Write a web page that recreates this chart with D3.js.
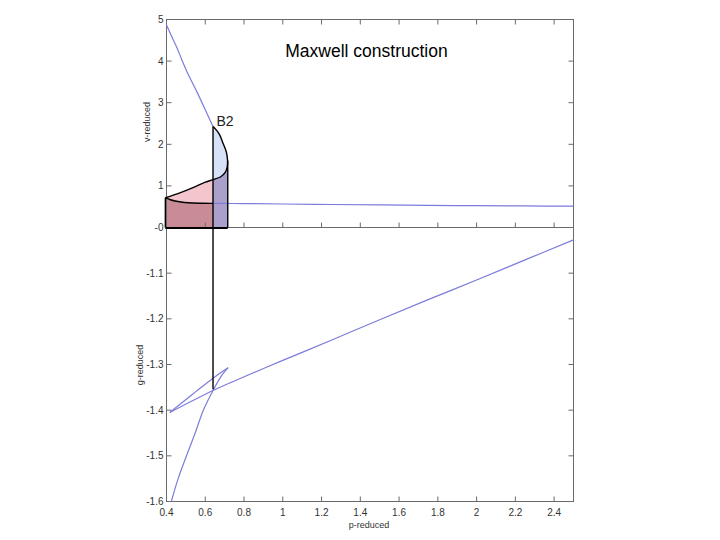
<!DOCTYPE html>
<html><head><meta charset="utf-8">
<script src="https://cdn.jsdelivr.net/npm/d3@7"></script>
<style>body{margin:0;background:#fff}svg{display:block}text{font-family:Arial,"Liberation Sans",sans-serif}</style>
</head><body><svg id="c" width="720" height="540"></svg>
<script>
// ---- data ----
const xTicks = [0.4,0.6,0.8,1,1.2,1.4,1.6,1.8,2,2.2,2.4];
const xTickLabels = ["0.4","0.6","0.8","1","1.2","1.4","1.6","1.8","2","2.2","2.4"];
const vTicks = [0,1,2,3,4,5];
const vTickLabels = ["-0","1","2","3","4","5"];
const gTicks = [-1.6,-1.5,-1.4,-1.3,-1.2,-1.1];
const gTickLabels = ["-1.6","-1.5","-1.4","-1.3","-1.2","-1.1"];

// v-p isotherm, gas branch (down to B2)
const gasP = [0.400,0.428,0.455,0.480,0.506,0.557,0.609,0.640];
const gasV = [4.87,4.58,4.31,4.02,3.74,3.26,2.74,2.43];
// unstable loop from B2 to the left tip
const loopP = [0.640,0.660,0.675,0.692,0.709,0.715,0.713,0.704,0.680,0.640,0.597,0.546,0.459,0.394];
const loopV = [2.43,2.33,2.22,2.02,1.81,1.61,1.45,1.33,1.22,1.15,1.085,0.975,0.815,0.716];
// lower branch from the tip to the Maxwell line
const lowP = [0.394,0.420,0.444,0.475,0.513,0.580,0.640];
const lowV = [0.716,0.668,0.638,0.612,0.595,0.584,0.580];
// liquid branch
const liqP = [0.640,0.80,1.00,1.25,1.50,1.75,2.00,2.25,2.50];
const liqV = [0.580,0.575,0.565,0.553,0.542,0.532,0.524,0.518,0.513];

// g-p curve
const gGasP = [0.425,0.460,0.503,0.548,0.590,0.640,0.680,0.718];
const gGasG = [-1.600,-1.550,-1.500,-1.450,-1.400,-1.357,-1.327,-1.307];
const gUnsP = [0.718,0.700,0.640,0.550,0.470,0.417];
const gUnsG = [-1.307,-1.312,-1.330,-1.360,-1.387,-1.405];
const gLiqP = [0.417,0.640,0.750,1.00,1.25,1.50,1.75,2.00,2.25,2.50];
const gLiqG = [-1.405,-1.357,-1.336,-1.291,-1.247,-1.202,-1.158,-1.115,-1.071,-1.027];

const pMaxwell = 0.640, vB2 = 2.43, gCross = -1.354;
const pRight = 0.716;

// ---- layout ----
const L = 166.5, R = 573.5;
const svg = d3.select("#c");
const x = d3.scaleLinear().domain([0.4,2.5]).range([L,R]);
const yv = d3.scaleLinear().domain([0,5]).range([227.5,19.5]);
const yg = d3.scaleLinear().domain([-1.6,-1.0]).range([501.5,227.5]);

const zip = (a,b)=>a.map((d,i)=>[d,b[i]]);
const lineV = d3.line().x(d=>x(d[0])).y(d=>yv(d[1])).curve(d3.curveCatmullRom.alpha(0.5));
const lineG = d3.line().x(d=>x(d[0])).y(d=>yg(d[1])).curve(d3.curveCatmullRom.alpha(0.5));
const lin = d3.line().x(d=>x(d[0])).y(d=>yv(d[1]));

const loop = zip(loopP,loopV), low = zip(lowP,lowV);
const iCross = 9, iMax = 5;

function pathFromParts(parts){
  let s = "";
  parts.forEach((pt,k)=>{
    let d = pt[1] ? lineV(pt[0]) : lin(pt[0]);
    if(k>0) d = "L" + d.slice(1);
    s += d;
  });
  return s + "Z";
}

// fills
const gF = svg.append("g");
gF.append("path").attr("fill","#c98c97").attr("d",
  pathFromParts([[[[0.394,0],[0.394,0.716]],false],[low,true],[[[pMaxwell,0.580],[pMaxwell,0]],false]]));
gF.append("path").attr("fill","#f2c6cc").attr("d",
  pathFromParts([[loop.slice(iCross),true],[low,true]]));
gF.append("path").attr("fill","#d7e1f8").attr("d",
  pathFromParts([[loop.slice(0,iCross+1),true]]));
gF.append("path").attr("fill","#ab9fcb").attr("d",
  pathFromParts([[[[pMaxwell,0]],false],[loop.slice(iMax,iCross+1).reverse(),true],[[[pRight,0]],false]]));

// frames & ticks
const axisCol = "#6a6a6a";
function frame(y0,y1){
  svg.append("rect").attr("x",L).attr("y",y0).attr("width",R-L).attr("height",y1-y0)
    .attr("fill","none").attr("stroke",axisCol).attr("stroke-width",1);
}
frame(yv(5),yv(0));
frame(yg(-1.0),yg(-1.6));
const tk = svg.append("g").attr("stroke",axisCol).attr("stroke-width",1);
xTicks.forEach(t=>{
  if(t<=0.4) return;
  [[yv(5),1],[yv(0),-1],[yg(-1.6),-1]].forEach(([yy,dir])=>{
    tk.append("line").attr("x1",x(t)).attr("x2",x(t)).attr("y1",yy).attr("y2",yy+dir*5);
  });
});
vTicks.forEach(t=>{
  if(t===0||t===5) return;
  tk.append("line").attr("x1",L).attr("x2",L+5).attr("y1",yv(t)).attr("y2",yv(t));
  tk.append("line").attr("x1",R).attr("x2",R-5).attr("y1",yv(t)).attr("y2",yv(t));
});
gTicks.forEach(t=>{
  if(t===-1.6) return;
  tk.append("line").attr("x1",L).attr("x2",L+5).attr("y1",yg(t)).attr("y2",yg(t));
  tk.append("line").attr("x1",R).attr("x2",R-5).attr("y1",yg(t)).attr("y2",yg(t));
});
const lab = svg.append("g").attr("fill","#333").attr("font-size",10);
xTicks.forEach((t,i)=>lab.append("text").attr("x",x(t)).attr("y",yg(-1.6)+14).attr("text-anchor","middle").text(xTickLabels[i]));
vTicks.forEach((t,i)=>lab.append("text").attr("x",L-3).attr("y",yv(t)+3.5).attr("text-anchor","end").text(vTickLabels[i]));
gTicks.forEach((t,i)=>lab.append("text").attr("x",L-3).attr("y",yg(t)+3.5).attr("text-anchor","end").text(gTickLabels[i]));

const ttl = svg.append("g").attr("fill","#333").attr("font-size",9);
ttl.append("text").attr("x",369).attr("y",528).attr("text-anchor","middle").text("p-reduced");
ttl.append("text").attr("transform","translate(150,122) rotate(-90)").attr("text-anchor","middle").text("v-reduced");
ttl.append("text").attr("transform","translate(143,365) rotate(-90)").attr("text-anchor","middle").text("g-reduced");

svg.append("text").attr("x",366.5).attr("y",57).attr("text-anchor","middle").attr("font-size",17.5).attr("fill","#000").text("Maxwell construction");
svg.append("text").attr("x",216.5).attr("y",126).attr("font-size",14).attr("fill","#222").text("B2");

// blue curves
const blue = "#7c7cdc";
svg.append("path").attr("d",lineV(zip(gasP,gasV))).attr("fill","none").attr("stroke",blue).attr("stroke-width",1.2);
svg.append("path").attr("d",lineV(zip(liqP,liqV))).attr("fill","none").attr("stroke",blue).attr("stroke-width",1.2);
[[gGasP,gGasG],[gUnsP,gUnsG],[gLiqP,gLiqG]].forEach(([p,g])=>{
  svg.append("path").attr("d",lineG(zip(p,g))).attr("fill","none").attr("stroke",blue).attr("stroke-width",1.2);
});

// black outlines
const blk = svg.append("g").attr("fill","none").attr("stroke","#000").attr("stroke-width",1.4);
blk.append("path").attr("d",lineV(loop));
blk.append("path").attr("d",lineV(low));
blk.append("line").attr("x1",x(0.394)).attr("x2",x(0.394)).attr("y1",yv(0)).attr("y2",yv(0.716));
blk.append("line").attr("x1",x(pRight)).attr("x2",x(pRight)).attr("y1",yv(0)).attr("y2",yv(1.61));
blk.append("line").attr("x1",x(0.394)).attr("x2",x(pRight)).attr("y1",yv(0)+0.5).attr("y2",yv(0)+0.5).attr("stroke-width",2.2);
blk.append("line").attr("x1",x(pMaxwell)).attr("x2",x(pMaxwell)).attr("y1",yv(vB2)).attr("y2",yg(gCross));
</script></body></html>
